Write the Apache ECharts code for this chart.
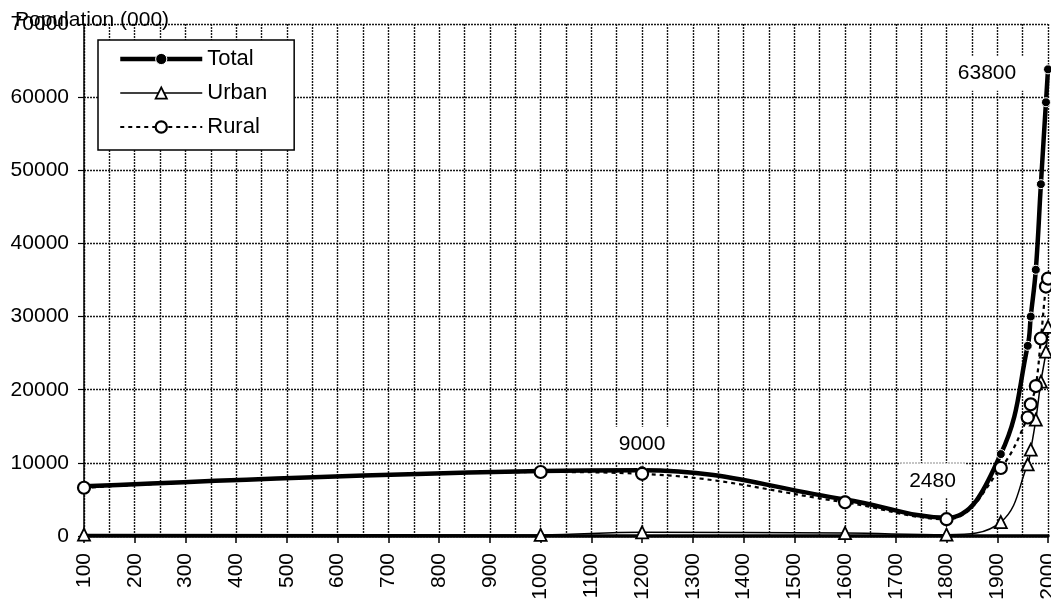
<!DOCTYPE html>
<html>
<head>
<meta charset="utf-8">
<script src="https://cdn.jsdelivr.net/npm/echarts@6/dist/echarts.min.js"></script>
<style>
html,body{margin:0;padding:0;background:#fff;}
#chart{width:1051px;height:599px;}
</style>
</head>
<body>
<div id="chart"></div>
<script>
// ---- data ----
const years = [100, 1000, 1200, 1600, 1800, 1907, 1960, 1966, 1976, 1986, 1996, 2000];
const total = [6800, 8900, 9000, 5000, 2480, 11200, 26000, 30000, 36400, 48100, 59300, 63800];
const urban = [200, 150, 500, 400, 180, 1900, 9800, 11800, 15900, 21100, 25200, 28600];
const rural = [6600, 8750, 8500, 4600, 2300, 9300, 16200, 18000, 20500, 27000, 34100, 35200];
const labelledYears = [1200, 1800, 2000];
const seriesNames = ['Total', 'Urban', 'Rural'];
const yAxisTitle = 'Population (000)';

// ---- presentation ----
const labelOffsets = { 1200: [0, -26], 1800: [-14, -37], 2000: [-61, 4] };
const FONT = 'Liberation Sans, Arial, sans-serif';
const gridStyle = { color: '#1a1a1a', type: [2, 1], width: 1.4 };
const styles = {
  Total: { line: { color: '#000', width: 4.5 }, item: { color: '#000', borderColor: '#fff', borderWidth: 1 }, symbol: 'circle', size: 9 },
  Urban: { line: { color: '#000', width: 1.5 }, item: { color: '#fff', borderColor: '#000', borderWidth: 1.8 }, symbol: 'triangle', size: 12 },
  Rural: { line: { color: '#000', width: 2.2, type: [4, 4] }, item: { color: '#fff', borderColor: '#000', borderWidth: 2.2 }, symbol: 'circle', size: 12 }
};

function pairs(vals) {
  return years.map((y, i) => [y, vals[i]]);
}
const totalData = years.map((y, i) => {
  if (labelledYears.indexOf(y) >= 0) {
    return {
      value: [y, total[i]],
      label: {
        show: true,
        position: 'inside',
        offset: labelOffsets[y],
        formatter: p => String(p.value[1]),
        backgroundColor: '#fff',
        padding: [7, 9],
        fontSize: 21,
        color: '#000',
        fontFamily: FONT
      }
    };
  }
  return [y, total[i]];
});
const seriesData = { Total: totalData, Urban: pairs(urban), Rural: pairs(rural) };

const chart = echarts.init(document.getElementById('chart'), null, { renderer: 'canvas' });
chart.setOption({
  animation: false,
  backgroundColor: '#fff',
  textStyle: { fontFamily: FONT, color: '#000' },
  title: {
    text: yAxisTitle,
    left: 10, top: 5,
    textStyle: { fontSize: 21, fontWeight: 'normal', color: '#000', fontFamily: FONT }
  },
  legend: {
    orient: 'vertical',
    left: 98, top: 40,
    data: seriesNames.map(n => ({ name: n, lineStyle: styles[n].line, itemStyle: styles[n].item })),
    backgroundColor: '#fff',
    borderColor: '#000',
    borderWidth: 1.5,
    borderRadius: 0,
    padding: [8, 27, 12, 20],
    itemWidth: 82,
    itemHeight: 14,
    itemGap: 12,
    textStyle: { fontSize: 22, color: '#000', fontFamily: FONT }
  },
  grid: { left: 84, right: 3, top: 24, bottom: 63, containLabel: false, outerBoundsMode: 'none' },
  xAxis: {
    type: 'value',
    min: 100, max: 2000, interval: 100,
    axisLine: { show: true, onZero: false, lineStyle: { color: '#000', width: 3.5 } },
    axisTick: { show: true, length: 7, lineStyle: { color: '#000', width: 1.5 } },
    axisLabel: { rotate: 90, fontSize: 21, color: '#000', margin: 17, fontFamily: FONT, showMaxLabel: true, showMinLabel: true, formatter: v => String(v) },
    splitLine: { show: true, lineStyle: gridStyle },
    minorTick: { show: false, splitNumber: 2 },
    minorSplitLine: { show: true, lineStyle: gridStyle }
  },
  yAxis: {
    type: 'value',
    min: 0, max: 70000, interval: 10000,
    axisLine: { show: true, lineStyle: { color: '#000', width: 1.5 } },
    axisTick: { show: true, length: 6, lineStyle: { color: '#000', width: 1.2 } },
    axisLabel: { fontSize: 21, color: '#000', margin: 15, fontFamily: FONT, formatter: v => String(v) },
    splitLine: { show: true, lineStyle: gridStyle }
  },
  series: seriesNames.map((n, k) => ({
    name: n, type: 'line', data: seriesData[n], smooth: 0.4,
    symbol: styles[n].symbol, symbolSize: styles[n].size,
    lineStyle: styles[n].line,
    itemStyle: styles[n].item,
    z: 2 + k
  }))
});
</script>
</body>
</html>
